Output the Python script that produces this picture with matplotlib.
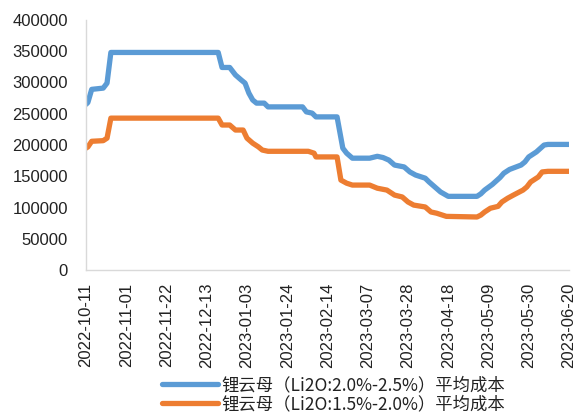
import matplotlib
matplotlib.use("Agg")
import matplotlib.pyplot as plt
import pandas as pd

blue_dates = ["2022-10-11", "2022-10-12", "2022-10-14", "2022-10-20", "2022-10-22", "2022-10-24",
              "2022-12-19", "2022-12-21", "2022-12-25", "2022-12-28", "2022-12-31", "2023-01-02",
              "2023-01-04", "2023-01-06", "2023-01-08", "2023-01-12", "2023-01-14", "2023-02-01",
              "2023-02-03", "2023-02-06", "2023-02-08", "2023-02-19", "2023-02-22", "2023-02-24",
              "2023-02-27", "2023-03-08", "2023-03-12", "2023-03-15", "2023-03-18", "2023-03-21",
              "2023-03-26", "2023-03-29", "2023-04-01", "2023-04-06", "2023-04-08", "2023-04-11",
              "2023-04-14", "2023-04-18", "2023-05-03", "2023-05-05", "2023-05-07", "2023-05-11",
              "2023-05-15", "2023-05-17", "2023-05-20", "2023-05-26", "2023-05-28", "2023-05-30",
              "2023-06-03", "2023-06-07", "2023-06-09", "2023-06-20"]
blue_values = [265000, 268000, 289000, 291000, 299000, 348000,
               348000, 324000, 324000, 312000, 304000, 299000,
               283000, 272000, 267000, 267000, 261000, 261000,
               253000, 251000, 245000, 245000, 195000, 187000,
               179000, 179000, 182000, 180000, 176000, 168000,
               165000, 157000, 152000, 147000, 141000, 133000,
               125000, 118000, 118000, 122000, 128000, 137000,
               148000, 155000, 161000, 168000, 173000, 181000,
               189000, 200000, 201000, 201000]

orange_dates = ["2022-10-11", "2022-10-12", "2022-10-14", "2022-10-20", "2022-10-22", "2022-10-24",
                "2022-12-19", "2022-12-21", "2022-12-25", "2022-12-28", "2023-01-01", "2023-01-03",
                "2023-01-06", "2023-01-09", "2023-01-11", "2023-01-14", "2023-02-04", "2023-02-07",
                "2023-02-08", "2023-02-19", "2023-02-21", "2023-02-24", "2023-02-27", "2023-03-08",
                "2023-03-12", "2023-03-17", "2023-03-21", "2023-03-25", "2023-03-28", "2023-03-31",
                "2023-04-06", "2023-04-09", "2023-04-12", "2023-04-17", "2023-05-03", "2023-05-05",
                "2023-05-07", "2023-05-10", "2023-05-14", "2023-05-16", "2023-05-19", "2023-05-22",
                "2023-05-27", "2023-05-29", "2023-05-31", "2023-06-04", "2023-06-06", "2023-06-09",
                "2023-06-20"]
orange_values = [195000, 197000, 206000, 207000, 211000, 243000,
                 243000, 232000, 232000, 224000, 224000, 211000,
                 203000, 197000, 192000, 190000, 190000, 187000,
                 181000, 181000, 144000, 139000, 136000, 136000,
                 131000, 128000, 120000, 117000, 109000, 104000,
                 101000, 93000, 91000, 86000, 85000, 88000,
                 93000, 99000, 102000, 109000, 115000, 120000,
                 128000, 133000, 141000, 149000, 157000, 158000,
                 158000]

tick_labels = ["2022-10-11", "2022-11-01", "2022-11-22", "2022-12-13", "2023-01-03", "2023-01-24",
               "2023-02-14", "2023-03-07", "2023-03-28", "2023-04-18", "2023-05-09", "2023-05-30",
               "2023-06-20"]
y_ticks = [0, 50000, 100000, 150000, 200000, 250000, 300000, 350000, 400000]
series_names = ["锂云母（Li2O:2.0%-2.5%）平均成本", "锂云母（Li2O:1.5%-2.0%）平均成本"]

fig = plt.figure(figsize=(5.73, 4.15), dpi=100)
ax = fig.add_axes([0.150, 0.349, 0.843, 0.603])

ax.plot(pd.to_datetime(blue_dates), blue_values, color="#5B9BD5", lw=3.8,
        solid_capstyle="round", solid_joinstyle="round", label=series_names[0])
ax.plot(pd.to_datetime(orange_dates), orange_values, color="#ED7D31", lw=3.8,
        solid_capstyle="round", solid_joinstyle="round", label=series_names[1])

ax.set_ylim(0, 400000)
ax.set_yticks(y_ticks)
ax.set_yticklabels([str(v) for v in y_ticks], fontsize=12, family="Liberation Sans", color="#222222")
tick_pos = pd.to_datetime(tick_labels)
ax.set_xlim(tick_pos[0], tick_pos[-1])
ax.set_xticks(tick_pos)
ax.set_xticklabels(tick_labels, rotation=90, fontsize=12, family="Liberation Sans", color="#222222")
ax.tick_params(axis="both", length=0)
ax.tick_params(axis="y", pad=13)
ax.tick_params(axis="x", pad=9)

for s in ["top", "right"]:
    ax.spines[s].set_visible(False)
for s in ["left", "bottom"]:
    ax.spines[s].set_color("#D9D9D9")
    ax.spines[s].set_linewidth(1.0)

leg = fig.legend(loc="center", bbox_to_anchor=(0.582, 0.049), ncol=1, frameon=False,
                 prop={"family": ["Noto Sans CJK SC", "DejaVu Sans"], "size": 12.5},
                 handlelength=3.2, handletextpad=0.2, labelspacing=0.02, borderpad=0)
for t in leg.get_texts():
    t.set_color("#222222")

fig.savefig("out.png", dpi=100)
